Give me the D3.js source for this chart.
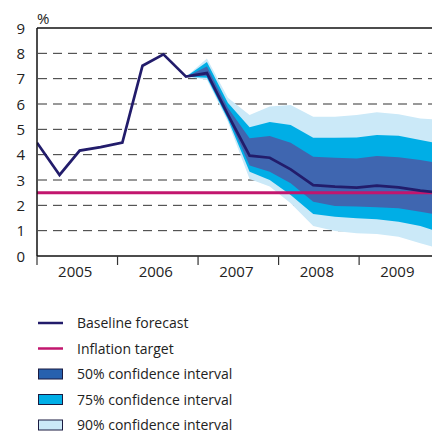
<!DOCTYPE html>
<html>
<head>
<meta charset="utf-8">
<script src="https://cdn.jsdelivr.net/npm/d3@7"></script>
<style>
  body { margin: 0; background: #fff; }
  svg { display: block; font-family: "Open Sans", sans-serif; }
</style>
</head>
<body>
<svg id="chart" width="432" height="437"></svg>
<script>
// decimal-year positions of the points
const dates = [2005.00, 2005.28, 2005.53, 2005.79, 2006.06, 2006.31, 2006.57, 2006.85, 2007.11, 2007.37,
               2007.64, 2007.89, 2008.15, 2008.43, 2008.70, 2008.97, 2009.22, 2009.49, 2009.76, 2009.91];
const baseline = [4.47, 3.2, 4.16, 4.3, 4.48, 7.51, 7.96, 7.08, 7.22, 5.58,
                  3.96, 3.88, 3.42, 2.80, 2.74, 2.70, 2.78, 2.71, 2.58, 2.53];

// fan starts at the 2006.85 point
const fanStart = 7;
const upper90 = [7.08, 7.80, 6.25, 5.57, 5.90, 5.96, 5.50, 5.50, 5.57, 5.67, 5.60, 5.43, 5.40];
const upper75 = [7.08, 7.66, 6.05, 5.08, 5.29, 5.17, 4.67, 4.67, 4.68, 4.78, 4.75, 4.58, 4.49];
const upper50 = [7.08, 7.48, 5.85, 4.65, 4.74, 4.47, 3.92, 3.88, 3.85, 3.95, 3.90, 3.79, 3.71];
const lower50 = [7.08, 7.12, 5.50, 3.57, 3.33, 2.87, 2.14, 1.97, 1.95, 1.92, 1.88, 1.75, 1.66];
const lower75 = [7.08, 7.04, 5.40, 3.33, 3.00, 2.41, 1.66, 1.55, 1.49, 1.45, 1.35, 1.18, 1.03];
const lower90 = [7.08, 6.96, 5.30, 3.04, 2.74, 2.08, 1.18, 0.99, 0.90, 0.87, 0.76, 0.50, 0.37];

const target = 2.5;
const years = [2005, 2006, 2007, 2008, 2009];
const yTicks = [0, 1, 2, 3, 4, 5, 6, 7, 8, 9];

const colors = {
    line: "#221c6b",
    target: "#c2166e",
    c50: "#3f66b0",
    c75: "#00aee6",
    c90: "#cbe9f8"
};

const svg = d3.select("#chart");

const x = d3.scaleLinear().domain([2005, 2009.905]).range([37, 432]);
const y = d3.scaleLinear().domain([0, 9]).range([256, 28]);

// clip for the plot
svg.append("clipPath").attr("id", "plot")
    .append("rect").attr("x", 37).attr("y", 20).attr("width", 395).attr("height", 236);

// dashed grid
svg.append("g").selectAll("line")
    .data(yTicks.filter(d => d > 0 && d < 9))
    .join("line")
    .attr("x1", x(2005) + 1).attr("x2", 432)
    .attr("y1", d => y(d)).attr("y2", d => y(d))
    .attr("stroke", "#333").attr("stroke-width", 1)
    .attr("stroke-dasharray", "9,6");

// fan bands
const fanDates = dates.slice(fanStart);
const band = (lo, hi) => d3.area()
    .x((d, i) => x(fanDates[i]))
    .y0((d, i) => y(lo[i]))
    .y1((d, i) => y(hi[i]))(fanDates);

const fan = svg.append("g").attr("clip-path", "url(#plot)");
fan.append("path").attr("d", band(lower90, upper90)).attr("fill", colors.c90);
fan.append("path").attr("d", band(lower75, upper75)).attr("fill", colors.c75);
fan.append("path").attr("d", band(lower50, upper50)).attr("fill", colors.c50);

// inflation target
svg.append("line")
    .attr("x1", x(2005)).attr("x2", 432)
    .attr("y1", y(target)).attr("y2", y(target))
    .attr("stroke", colors.target).attr("stroke-width", 3);

// baseline forecast
svg.append("path")
    .attr("clip-path", "url(#plot)")
    .attr("d", d3.line().x((d, i) => x(dates[i])).y(d => y(d))(baseline))
    .attr("fill", "none")
    .attr("stroke", colors.line)
    .attr("stroke-width", 2.7)
    .attr("stroke-linejoin", "miter");

// frame: top line, left axis, bottom axis
svg.append("line").attr("x1", x(2005)).attr("x2", 432).attr("y1", y(9)).attr("y2", y(9))
    .attr("stroke", "#111").attr("stroke-width", 1.3);
svg.append("line").attr("x1", x(2005)).attr("x2", x(2005)).attr("y1", y(9)).attr("y2", y(0))
    .attr("stroke", "#111").attr("stroke-width", 1.5);
svg.append("line").attr("x1", x(2005)).attr("x2", 432).attr("y1", y(0)).attr("y2", y(0))
    .attr("stroke", "#111").attr("stroke-width", 1.5);

// year ticks
svg.append("g").selectAll("line")
    .data(years)
    .join("line")
    .attr("x1", d => x(d)).attr("x2", d => x(d))
    .attr("y1", y(0)).attr("y2", y(0) + 9)
    .attr("stroke", "#333").attr("stroke-width", 1.2);

svg.append("g").selectAll("text")
    .data(years)
    .join("text")
    .attr("x", d => x(d + 0.5) - 2)
    .attr("y", 277)
    .attr("text-anchor", "middle")
    .attr("font-size", 15)
    .attr("fill", "#222")
    .text(d => d);

// y labels
svg.append("g").selectAll("text")
    .data(yTicks)
    .join("text")
    .attr("x", 25)
    .attr("y", d => y(d) + 5.5)
    .attr("text-anchor", "end")
    .attr("font-size", 15)
    .attr("fill", "#222")
    .text(d => d);

svg.append("text").attr("x", 37).attr("y", 24)
    .attr("font-size", 15).attr("fill", "#222").text("%");

// legend
const legendItems = [
    { label: "Baseline forecast", type: "line", color: colors.line },
    { label: "Inflation target", type: "line", color: colors.target },
    { label: "50% confidence interval", type: "rect", color: "#2761ae" },
    { label: "75% confidence interval", type: "rect", color: colors.c75 },
    { label: "90% confidence interval", type: "rect", color: colors.c90 }
];

const legend = svg.append("g").selectAll("g")
    .data(legendItems)
    .join("g")
    .attr("transform", (d, i) => `translate(38,${323 + i * 25.5})`);

legend.filter(d => d.type === "line").append("line")
    .attr("x1", 0).attr("x2", 25).attr("y1", 0).attr("y2", 0)
    .attr("stroke", d => d.color).attr("stroke-width", 2.5);

legend.filter(d => d.type === "rect").append("rect")
    .attr("x", 0.5).attr("y", -5).attr("width", 24).attr("height", 10)
    .attr("fill", d => d.color).attr("stroke", "#1a1a40").attr("stroke-width", 1);

legend.append("text")
    .attr("x", 39).attr("y", 5)
    .attr("font-size", 14)
    .attr("fill", "#222")
    .text(d => d.label);
</script>
</body>
</html>
